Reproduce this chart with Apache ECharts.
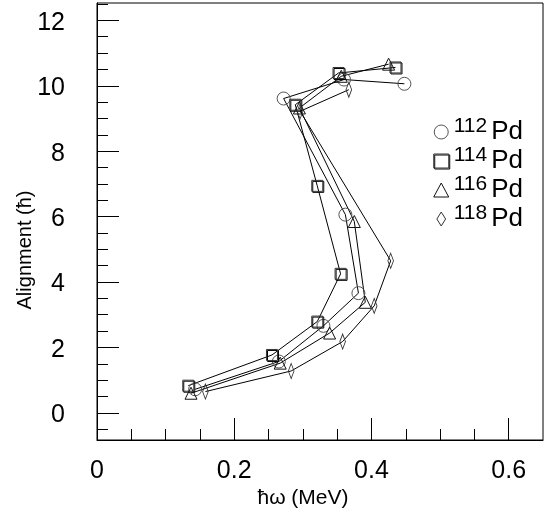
<!DOCTYPE html>
<html style="height: 100%">
<head>
  <meta charset="utf-8">
  <title>Alignment vs rotational frequency, Pd isotopes</title>
  <script src="https://cdn.jsdelivr.net/npm/echarts@6/dist/echarts.min.js"></script>
</head>
<body style="height: 100%; margin: 0; background: #fff">
  <div id="main" style="width: 550px; height: 512px"></div>
  <script type="text/javascript">
    // hbar*omega (MeV) and alignment (hbar)
    var w112 = [0.143, 0.265, 0.330, 0.381, 0.362, 0.272, 0.360, 0.448];
    var i112 = [0.72, 1.57, 2.66, 3.66, 6.06, 9.61, 10.19, 10.06];
    var w114 = [0.133, 0.255, 0.321, 0.355, 0.321, 0.289, 0.352, 0.435];
    var i114 = [0.83, 1.77, 2.79, 4.25, 6.94, 9.42, 10.39, 10.56];
    var w116 = [0.137, 0.267, 0.339, 0.391, 0.375, 0.295, 0.356, 0.425];
    var i116 = [0.60, 1.52, 2.44, 3.38, 5.85, 9.32, 10.29, 10.66];
    var w118 = [0.158, 0.283, 0.358, 0.404, 0.428, 0.296, 0.367];
    var i118 = [0.65, 1.28, 2.18, 3.27, 4.65, 9.22, 9.88];

    var xMajor = [0, 0.2, 0.4, 0.6];
    var xMinor = [0.05, 0.1, 0.15, 0.25, 0.3, 0.35, 0.45, 0.5, 0.55];
    var yMajor = [0, 2, 4, 6, 8, 10, 12];
    var yMinor = [-0.5, 0.5, 1, 1.5, 2.5, 3, 3.5, 4.5, 5, 5.5, 6.5, 7, 7.5,
                  8.5, 9, 9.5, 10.5, 11, 11.5, 12.5];

    function pairs(xs, ys) {
      return xs.map(function (x, i) { return [x, ys[i]]; });
    }

    var font = 'Liberation Sans, Arial, sans-serif';
    var diamond = 'path://M0,0M16,0M16,16M8,0L13,8L8,16L3,8Z';

    var marks = [
      { name: '112Pd', symbol: 'circle', size: 13, data: pairs(w112, i112), border: '#555', shadow: false },
      { name: '114Pd', symbol: 'rect', size: 11, data: pairs(w114, i114), border: '#333', shadow: true },
      { name: '116Pd', symbol: 'triangle', size: 12, data: pairs(w116, i116), border: '#111', shadow: false },
      { name: '118Pd', symbol: diamond, size: [9, 15], data: pairs(w118, i118), border: '#333', shadow: false }
    ];

    function markStyle(m) {
      var s = { color: 'rgba(255,255,255,0)', borderColor: m.border, borderWidth: 1 };
      if (m.shadow) {
        s.shadowColor = '#000';
        s.shadowOffsetX = 1;
        s.shadowOffsetY = 1;
        s.shadowBlur = 0;
      }
      return s;
    }

    var option = {
      animation: false,
      backgroundColor: '#fff',
      textStyle: { fontFamily: font, color: '#000' },
      grid: {
        left: 97, right: 7, top: 3, bottom: 72,
        show: true, borderColor: '#000', borderWidth: 1,
        outerBoundsMode: 'none'
      },
      legend: {
        orient: 'vertical',
        right: 22,
        top: 111,
        itemWidth: 15,
        itemHeight: 14,
        itemGap: 0,
        selectedMode: false,
        data: marks.map(function (m) {
          return {
            name: m.name,
            icon: m.symbol,
            itemStyle: markStyle(m)
          };
        }),
        formatter: function (name) {
          return '{s|' + name.replace('Pd', '') + '}{p|Pd}';
        },
        textStyle: {
          color: '#000',
          rich: {
            s: { fontFamily: font, fontSize: 21, color: '#000', padding: [0, 4, 11, 0] },
            p: { fontFamily: font, fontSize: 26, color: '#000' }
          }
        }
      },
      xAxis: [
        {
          type: 'value', min: 0, max: 0.65, position: 'bottom',
          name: 'ħω (MeV)', nameLocation: 'middle', nameGap: 48, nameMoveOverlap: false,
          nameTextStyle: { fontFamily: font, fontSize: 21, color: '#000', padding: [0, 34, 0, 0] },
          axisLine: { onZero: false, lineStyle: { color: '#000' } },
          axisTick: { inside: true, length: 22, customValues: xMajor, lineStyle: { color: '#000' } },
          axisLabel: { customValues: xMajor, fontSize: 25, color: '#000', margin: 19, fontFamily: font },
          splitLine: { show: false }
        },
        {
          type: 'value', min: 0, max: 0.65, position: 'bottom',
          axisLine: { show: false, onZero: false },
          axisTick: { inside: true, length: 11, customValues: xMinor, lineStyle: { color: '#000' } },
          axisLabel: { show: false },
          splitLine: { show: false }
        }
      ],
      yAxis: [
        {
          type: 'value', min: -0.83, max: 12.53, position: 'left',
          name: 'Alignment (ħ)', nameLocation: 'middle', nameGap: 62, nameMoveOverlap: false,
          nameTextStyle: { fontFamily: font, fontSize: 20, color: '#000', padding: [0, 57, 0, 0] },
          axisLine: { onZero: false, lineStyle: { color: '#000' } },
          axisTick: { inside: true, length: 22, customValues: yMajor, lineStyle: { color: '#000' } },
          axisLabel: {
            customValues: yMajor, fontSize: 25, color: '#000', margin: 32, fontFamily: font,
            verticalAlign: 'top', lineHeight: 5
          },
          splitLine: { show: false }
        },
        {
          type: 'value', min: -0.83, max: 12.53, position: 'left',
          axisLine: { show: false, onZero: false },
          axisTick: { inside: true, length: 11, customValues: yMinor, lineStyle: { color: '#000' } },
          axisLabel: { show: false },
          splitLine: { show: false }
        }
      ],
      series: marks.map(function (m) {
        return {
          name: m.name,
          type: 'line',
          data: m.data,
          symbol: m.symbol,
          symbolSize: m.size,
          showAllSymbol: true,
          itemStyle: markStyle(m),
          lineStyle: { color: '#000', width: 1 },
          emphasis: { disabled: true }
        };
      })
    };

    var chart = echarts.init(document.getElementById('main'));
    chart.setOption(option);
  </script>
</body>
</html>
